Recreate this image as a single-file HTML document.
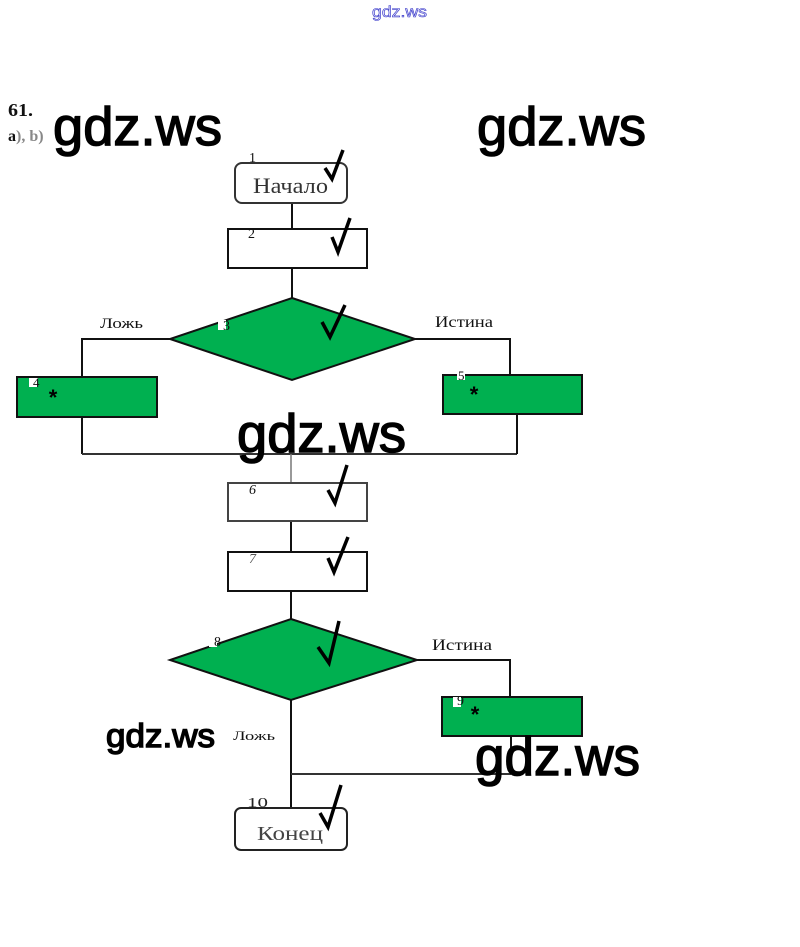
<!DOCTYPE html>
<html>
<head>
<meta charset="utf-8">
<style>
  html, body { margin: 0; padding: 0; background: #fff; }
  svg { display: block; }
  .serif { font-family: "Liberation Serif", "Noto Serif CJK SC", serif; }
  .sans { font-family: "Liberation Sans", "Noto Sans CJK SC", sans-serif; }
  .ln { stroke: #111; stroke-width: 2; fill: none; }
  .box { stroke: #111; stroke-width: 2; fill: #fff; }
  .green { stroke: #111; stroke-width: 2; fill: #00b050; }
  .chk { stroke: #000; stroke-width: 3.5; fill: none; stroke-linejoin: miter; stroke-linecap: butt; }
  .wm { font-family: "Liberation Sans", sans-serif; fill: #000; stroke: #000; stroke-width: 1.4; }
</style>
</head>
<body>
<svg width="800" height="947" viewBox="0 0 800 947" xmlns="http://www.w3.org/2000/svg">
  <rect width="800" height="947" fill="#fff"/>

  <!-- top small watermark -->
  <text x="372" y="17" class="sans" font-size="16" textLength="55" lengthAdjust="spacingAndGlyphs" fill="#e4e4fa" stroke="#3535c8" stroke-width="0.6">gdz.ws</text>

  <!-- header -->
  <text x="8" y="116" class="serif" font-size="18" font-weight="bold" textLength="25" lengthAdjust="spacingAndGlyphs" fill="#111">61.</text>
  <text x="8" y="141" class="serif" font-size="16" font-weight="bold" fill="#111">a<tspan fill="#888">), b)</tspan></text>

  <!-- connectors -->
  <line class="ln" x1="292" y1="203" x2="292" y2="229"/>
  <line class="ln" x1="292" y1="268" x2="292" y2="298"/>
  <polyline class="ln" points="170,339 82,339 82,377"/>
  <polyline class="ln" points="415,339 510,339 510,375"/>
  <line class="ln" x1="82" y1="417" x2="82" y2="454"/>
  <line x1="82" y1="454" x2="517" y2="454" stroke="#333" stroke-width="2"/>
  <line class="ln" x1="517" y1="414" x2="517" y2="454"/>
  <line x1="291" y1="454" x2="291" y2="483" stroke="#777" stroke-width="1.5"/>
  <line class="ln" x1="291" y1="521" x2="291" y2="552"/>
  <line class="ln" x1="291" y1="591" x2="291" y2="619"/>
  <polyline class="ln" points="417,660 510,660 510,697"/>
  <line class="ln" x1="291" y1="700" x2="291" y2="808"/>
  <line x1="291" y1="774" x2="511" y2="774" stroke="#333" stroke-width="2"/>
  <line class="ln" x1="511" y1="736" x2="511" y2="774"/>

  <!-- 1 start -->
  <rect x="235" y="163" width="112" height="40" rx="7" ry="7" fill="#fff" stroke="#333" stroke-width="2"/>
  <text x="249" y="162" class="serif" font-size="14" fill="#111">1</text>
  <text x="253" y="193" class="serif" font-size="22" textLength="75" lengthAdjust="spacingAndGlyphs" fill="#333">Начало</text>
  <polyline class="chk" points="325,168 332,179 343,150"/>

  <!-- 2 -->
  <rect class="box" x="228" y="229" width="139" height="39"/>
  <text x="248" y="238" class="serif" font-size="14" fill="#111">2</text>
  <polyline class="chk" points="332,237 338,252 350,218"/>

  <!-- 3 diamond -->
  <polygon class="green" points="292,298 415,339 292,380 170,339"/>
  <rect x="218" y="320" width="8" height="10" fill="#fff"/>
  <text x="223" y="330" class="serif" font-size="14" fill="#111">3</text>
  <polyline class="chk" points="322,322 330,337 345,305"/>
  <text x="100" y="328" class="serif" font-size="15" textLength="43" lengthAdjust="spacingAndGlyphs" fill="#111">Ложь</text>
  <text x="435" y="327" class="serif" font-size="16" textLength="58" lengthAdjust="spacingAndGlyphs" fill="#111">Истина</text>

  <!-- 4 -->
  <rect class="green" x="17" y="377" width="140" height="40"/>
  <rect x="29" y="378" width="9" height="9" fill="#fff"/>
  <text x="33" y="387" class="serif" font-size="13" fill="#111">4</text>
  <text x="53" y="405" class="sans" font-size="22" font-weight="bold" text-anchor="middle" fill="#000">*</text>

  <!-- 5 -->
  <rect class="green" x="443" y="375" width="139" height="39"/>
  <rect x="457" y="370" width="8" height="10" fill="#fff"/>
  <text x="458" y="380" class="serif" font-size="13" fill="#111">5</text>
  <text x="474" y="402" class="sans" font-size="22" font-weight="bold" text-anchor="middle" fill="#000">*</text>

  <!-- 6 -->
  <rect x="228" y="483" width="139" height="38" fill="#fff" stroke="#444" stroke-width="2"/>
  <text x="249" y="494" class="serif" font-size="14" font-style="italic" fill="#111">6</text>
  <polyline class="chk" points="328,490 335,503 347,465"/>

  <!-- 7 -->
  <rect class="box" x="228" y="552" width="139" height="39"/>
  <text x="249" y="563" class="serif" font-size="14" font-style="italic" fill="#555">7</text>
  <polyline class="chk" points="328,558 334,572 348,537"/>

  <!-- 8 diamond -->
  <polygon class="green" points="291,619 417,660 291,700 170,660"/>
  <rect x="209" y="637" width="8" height="10" fill="#fff"/>
  <text x="214" y="646" class="serif" font-size="14" fill="#111">8</text>
  <polyline class="chk" points="318,647 329,663 339,621"/>
  <text x="432" y="650" class="serif" font-size="16" textLength="60" lengthAdjust="spacingAndGlyphs" fill="#111">Истина</text>

  <!-- 9 -->
  <rect class="green" x="442" y="697" width="140" height="39"/>
  <rect x="453" y="697" width="8" height="10" fill="#fff"/>
  <text x="457" y="705" class="serif" font-size="14" fill="#111">9</text>
  <text x="475" y="722" class="sans" font-size="22" font-weight="bold" text-anchor="middle" fill="#000">*</text>

  <text x="233" y="740" class="serif" font-size="13" textLength="42" lengthAdjust="spacingAndGlyphs" fill="#111">Ложь</text>

  <!-- 10 end -->
  <rect x="235" y="808" width="112" height="42" rx="6" ry="6" fill="#fff" stroke="#222" stroke-width="2"/>
  <text x="247" y="807" class="serif" font-size="14" textLength="21" lengthAdjust="spacingAndGlyphs" fill="#222">10</text>
  <text x="257" y="840" class="serif" font-size="20" textLength="66" lengthAdjust="spacingAndGlyphs" fill="#444">Конец</text>
  <polyline class="chk" points="320,813 328,827 341,785"/>

  <!-- big watermarks -->
  <text x="53" y="145" class="wm" font-size="54" textLength="169" lengthAdjust="spacingAndGlyphs">gdz.ws</text>
  <text x="477" y="145" class="wm" font-size="54" textLength="169" lengthAdjust="spacingAndGlyphs">gdz.ws</text>
  <text x="237" y="452" class="wm" font-size="54" textLength="169" lengthAdjust="spacingAndGlyphs">gdz.ws</text>
  <text x="106" y="747" class="wm" font-size="33" textLength="109" lengthAdjust="spacingAndGlyphs" stroke-width="0.9">gdz.ws</text>
  <text x="475" y="775" class="wm" font-size="54" textLength="165" lengthAdjust="spacingAndGlyphs">gdz.ws</text>
</svg>
</body>
</html>
